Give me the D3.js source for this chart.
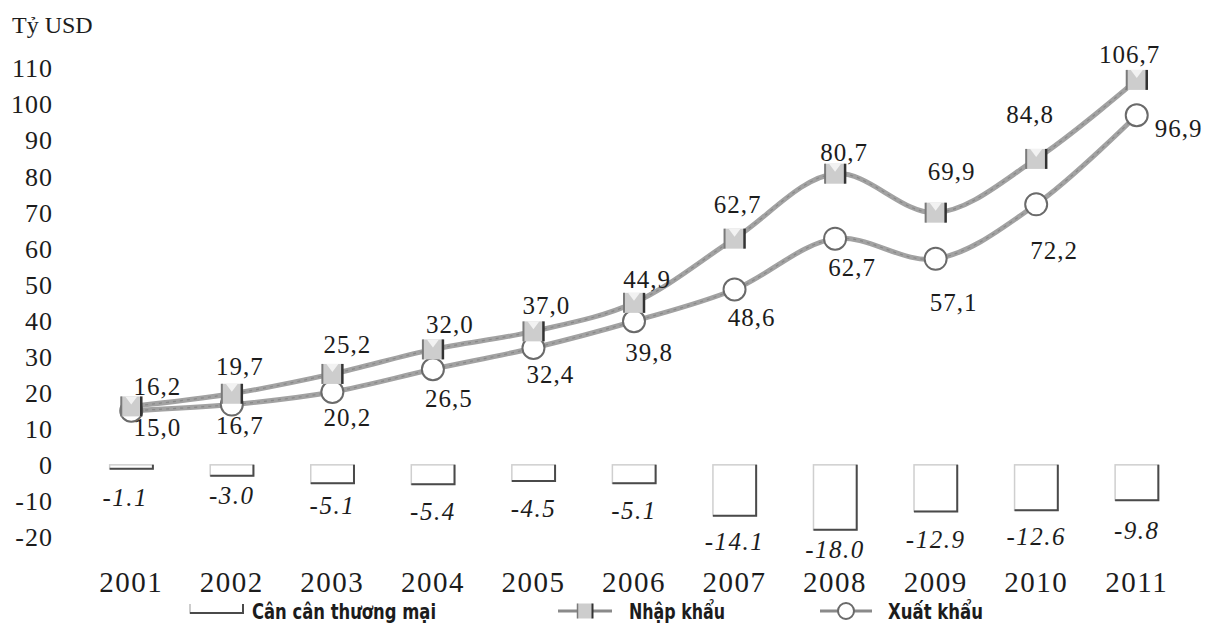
<!DOCTYPE html>
<html>
<head>
<meta charset="utf-8">
<script src="https://cdn.jsdelivr.net/npm/d3@7"></script>
<style>
  html, body { margin: 0; padding: 0; background: #fff; }
  svg { display: block; }
</style>
</head>
<body>
<svg id="chart" width="1211" height="628"></svg>
<script>
// ---------------- data ----------------
const years = ["2001","2002","2003","2004","2005","2006","2007","2008","2009","2010","2011"];
const importVals = [16.2, 19.7, 25.2, 32.0, 37.0, 44.9, 62.7, 80.7, 69.9, 84.8, 106.7];   // Nhập khẩu
const exportVals = [15.0, 16.7, 20.2, 26.5, 32.4, 39.8, 48.6, 62.7, 57.1, 72.2, 96.9];    // Xuất khẩu
const balanceVals = [-1.1, -3.0, -5.1, -5.4, -4.5, -5.1, -14.1, -18.0, -12.9, -12.6, -9.8]; // Cân cân thương mại
const yTicks = [-20, -10, 0, 10, 20, 30, 40, 50, 60, 70, 80, 90, 100, 110];
const unitLabel = "Tỷ USD";
const seriesNames = ["Cân cân thương mại", "Nhập khẩu", "Xuất khẩu"];

// label nudges (layout only, pixels)
const impDx = [26, 8, 15, 17, 13, 13, 3, 9, 16, -6, -7];
const impDy = [-20, -27, -29, -25, -26, -23, -34, -21, -41, -44, -25];
const expDx = [26, 8, 15, 16, 17, 15, 17, 17, 18, 18, 42];
const expDy = [17, 21, 26, 29, 27, 31, 28, 29, 44, 46, 13];
const balDx = [-6, 0, 0, 0, 0, 0, 0, 0, 0, 0, 0];
const balDy = [29, 20, 22, 27, 27, 27, 26, 20, 28, 26, 30];

// ---------------- setup ----------------
const svg = d3.select("#chart");
const serif = "Liberation Serif, Times New Roman, serif";
const narrow = "Liberation Sans Narrow, Arial Narrow, DejaVu Sans Condensed, sans-serif";
const ink = "#1c1c1c";

const x = d3.scaleBand().domain(years).range([81, 1187]).paddingInner(0.57).paddingOuter(0.285);
const y = d3.scaleLinear().domain([-20, 110]).range([537, 68]);
const cx = d => x(d) + x.bandwidth() / 2;
const fmtComma = v => v.toFixed(1).replace(".", ",");
const fmtDot = v => v.toFixed(1);

// unit title
svg.append("text").attr("x", 12).attr("y", 33)
  .attr("font-family", serif).attr("font-size", 24).attr("fill", ink)
  .text(unitLabel);

// y axis (labels only)
const yAxis = svg.append("g").attr("transform", "translate(53,0)")
  .call(d3.axisLeft(y).tickValues(yTicks).tickSize(0).tickPadding(0).tickFormat(d => String(d)));
yAxis.attr("font-family", serif).attr("font-size", 26);
yAxis.select(".domain").remove();
yAxis.selectAll("text").attr("fill", ink).attr("dy", "0.34em").attr("letter-spacing", 1);

// x axis (year labels)
const xAxis = svg.append("g").attr("transform", "translate(0,571)")
  .call(d3.axisBottom(x).tickSize(0).tickPadding(0));
xAxis.attr("font-family", serif).attr("font-size", 29);
xAxis.select(".domain").remove();
xAxis.selectAll("text").attr("fill", ink).attr("letter-spacing", 1.5);

// ---------------- balance bars ----------------
const bars = svg.append("g");
balanceVals.forEach((v, i) => {
  const x0 = x(years[i]), w = x.bandwidth();
  const y0 = y(0), y1 = y(v);
  bars.append("rect").attr("x", x0).attr("y", y0).attr("width", w).attr("height", y1 - y0)
    .attr("fill", "#fff").attr("stroke", "#cfcfcf").attr("stroke-width", 1.5);
  bars.append("path")
    .attr("d", `M${x0},${y1}L${x0 + w},${y1}L${x0 + w},${y0}`)
    .attr("fill", "none").attr("stroke", "#4a4a4a").attr("stroke-width", 2);
  bars.append("text").attr("x", cx(years[i]) + balDx[i]).attr("y", y1 + balDy[i]).attr("dy", "0.34em")
    .attr("text-anchor", "middle")
    .attr("font-family", serif).attr("font-style", "italic").attr("font-size", 25)
    .attr("letter-spacing", 1.5).attr("fill", ink)
    .text(fmtDot(v));
});

// ---------------- lines ----------------
const line = d3.line().x((d, i) => cx(years[i])).y(d => y(d)).curve(d3.curveCatmullRom.alpha(0.5));

[exportVals, importVals].forEach(vals => {
  svg.append("path").datum(vals).attr("d", line)
    .attr("fill", "none").attr("stroke", "#a2a2a2").attr("stroke-width", 5);
  svg.append("path").datum(vals).attr("d", line)
    .attr("fill", "none").attr("stroke", "#7d7d7d").attr("stroke-width", 1.2)
    .attr("stroke-dasharray", "3 4").attr("opacity", 0.7);
});

function squareMarker(g, px, py) {
  const s = 20;
  g.append("rect").attr("x", px - s / 2).attr("y", py - s / 2).attr("width", s).attr("height", s)
    .attr("fill", "#cdcdcd");
  g.append("path").attr("d", `M${px - s / 2 + 4},${py - s / 2}L${px},${py - 2}L${px + s / 2 - 4},${py - s / 2}Z`)
    .attr("fill", "#f2f2f2");
  g.append("line").attr("x1", px - s / 2).attr("x2", px - s / 2).attr("y1", py - s / 2).attr("y2", py + s / 2)
    .attr("stroke", "#7a7a7a").attr("stroke-width", 2);
  g.append("line").attr("x1", px + s / 2).attr("x2", px + s / 2).attr("y1", py - s / 2).attr("y2", py + s / 2)
    .attr("stroke", "#333").attr("stroke-width", 2.5);
}
function circleMarker(g, px, py) {
  g.append("circle").attr("cx", px).attr("cy", py).attr("r", 11)
    .attr("fill", "#fff").attr("stroke", "#6a6a6a").attr("stroke-width", 2);
}

const mk = svg.append("g");
exportVals.forEach((v, i) => circleMarker(mk, cx(years[i]), y(v)));
importVals.forEach((v, i) => squareMarker(mk, cx(years[i]), y(v)));

const lbl = svg.append("g").attr("font-family", serif).attr("font-size", 25)
  .attr("fill", ink).attr("letter-spacing", 1);
importVals.forEach((v, i) => {
  lbl.append("text").attr("x", cx(years[i]) + impDx[i]).attr("y", y(v) + impDy[i])
    .attr("dy", "0.34em").attr("text-anchor", "middle").text(fmtComma(v));
});
exportVals.forEach((v, i) => {
  lbl.append("text").attr("x", cx(years[i]) + expDx[i]).attr("y", y(v) + expDy[i])
    .attr("dy", "0.34em").attr("text-anchor", "middle").text(fmtComma(v));
});

// ---------------- legend ----------------
const lg = svg.append("g");
const legY = 611;
// bar icon
lg.append("path").attr("d", `M190,${legY - 7}L190,${legY + 2}L243,${legY + 2}`)
  .attr("fill", "none").attr("stroke", "#bdbdbd").attr("stroke-width", 1.5);
lg.append("path").attr("d", `M190,${legY + 2}L243,${legY + 2}L243,${legY - 7}`)
  .attr("fill", "none").attr("stroke", "#4a4a4a").attr("stroke-width", 2);
// import icon
lg.append("line").attr("x1", 558).attr("x2", 612).attr("y1", legY).attr("y2", legY)
  .attr("stroke", "#8a8a8a").attr("stroke-width", 3);
(function () {
  const px = 585, py = legY, s = 15;
  lg.append("rect").attr("x", px - s / 2).attr("y", py - s / 2).attr("width", s).attr("height", s).attr("fill", "#cdcdcd");
  lg.append("line").attr("x1", px + s / 2).attr("x2", px + s / 2).attr("y1", py - s / 2).attr("y2", py + s / 2)
    .attr("stroke", "#333").attr("stroke-width", 2);
  lg.append("line").attr("x1", px - s / 2).attr("x2", px - s / 2).attr("y1", py - s / 2).attr("y2", py + s / 2)
    .attr("stroke", "#7a7a7a").attr("stroke-width", 1.5);
})();
// export icon
lg.append("line").attr("x1", 820).attr("x2", 872).attr("y1", legY).attr("y2", legY)
  .attr("stroke", "#8a8a8a").attr("stroke-width", 3);
lg.append("circle").attr("cx", 846).attr("cy", legY).attr("r", 8)
  .attr("fill", "#fff").attr("stroke", "#6a6a6a").attr("stroke-width", 2);

const legTextX = [252, 629, 888];
const legTextW = [184, 96, 95];
seriesNames.forEach((n, i) => {
  lg.append("text").attr("x", legTextX[i]).attr("y", legY + 8)
    .attr("font-family", narrow).attr("font-weight", "bold").attr("font-size", 21)
    .attr("textLength", legTextW[i]).attr("lengthAdjust", "spacingAndGlyphs")
    .attr("fill", ink).text(n);
});
</script>
</body>
</html>
